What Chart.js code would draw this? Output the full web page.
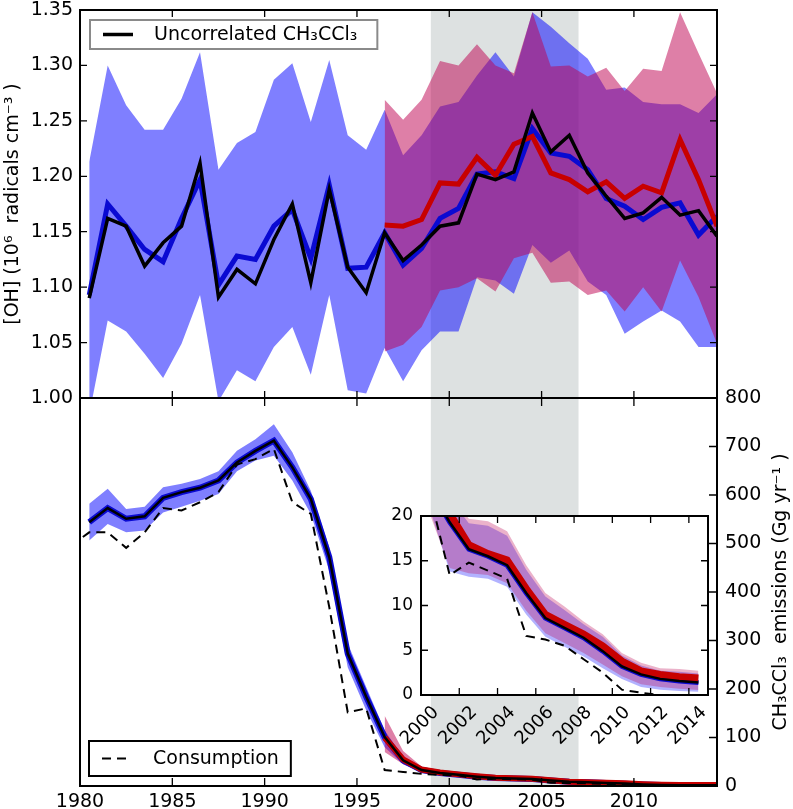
<!DOCTYPE html>
<html lang="en">
<head>
<meta charset="UTF-8">
<title>[OH] and CH3CCl3 emissions</title>
<script src="https://cdn.jsdelivr.net/npm/chart.js"></script>
<style>
  body { margin: 0; background: #fff; }
  #wrap { position: relative; width: 793px; height: 809px; }
  #wrap canvas { position: absolute; left: 0; top: 0; }
</style>
</head>
<body>
<div id="wrap">
  <canvas id="ohChart" width="793" height="809"></canvas>
  <canvas id="emisChart" width="793" height="809"></canvas>
  <canvas id="insetChart" width="793" height="809"></canvas>
</div>
<script>
// ---- data ----
const yearsAll = [1980.5, 1981.5, 1982.5, 1983.5, 1984.5, 1985.5, 1986.5, 1987.5, 1988.5, 1989.5,
  1990.5, 1991.5, 1992.5, 1993.5, 1994.5, 1995.5, 1996.5, 1997.5, 1998.5, 1999.5,
  2000.5, 2001.5, 2002.5, 2003.5, 2004.5, 2005.5, 2006.5, 2007.5, 2008.5, 2009.5,
  2010.5, 2011.5, 2012.5, 2013.5, 2014.5];
const yearsRed = [1996.5, 1997.5, 1998.5, 1999.5, 2000.5, 2001.5, 2002.5, 2003.5, 2004.5, 2005.5,
  2006.5, 2007.5, 2008.5, 2009.5, 2010.5, 2011.5, 2012.5, 2013.5, 2014.5];
const yearsCons = [1979.5, 1980.5, 1981.5, 1982.5, 1983.5, 1984.5, 1985.5, 1986.5, 1987.5, 1988.5, 1989.5,
  1990.5, 1991.5, 1992.5, 1993.5, 1994.5, 1995.5, 1996.5, 1997.5, 1998.5, 1999.5,
  2000.5, 2001.5, 2002.5, 2003.5, 2004.5, 2005.5, 2006.5, 2007.5, 2008.5, 2009.5,
  2010.5, 2011.5, 2012.5, 2013.5, 2014.5];

// [OH], 10^6 radicals cm^-3
const ohUncorr = [1.090, 1.162, 1.155, 1.119, 1.140, 1.155, 1.212, 1.091, 1.116, 1.103, 1.143, 1.175, 1.104, 1.188, 1.118, 1.095, 1.149,
  1.124, 1.138, 1.155, 1.158, 1.202, 1.197, 1.204, 1.257, 1.222, 1.237, 1.203, 1.182, 1.162, 1.167, 1.181, 1.165, 1.169, 1.146];
const ohBlue = [1.093, 1.175, 1.155, 1.134, 1.123, 1.162, 1.197, 1.102, 1.128, 1.125, 1.155, 1.170, 1.126, 1.192, 1.117, 1.118, 1.149,
  1.120, 1.135, 1.162, 1.171, 1.202, 1.204, 1.198, 1.243, 1.221, 1.218, 1.206, 1.180, 1.173, 1.161, 1.172, 1.176, 1.147, 1.164];
const ohBlueHigh = [1.213, 1.300, 1.264, 1.242, 1.242, 1.270, 1.312, 1.206, 1.230, 1.240, 1.287, 1.302, 1.249, 1.305, 1.237, 1.224, 1.260,
  1.219, 1.237, 1.263, 1.267, 1.291, 1.312, 1.290, 1.348, 1.335, 1.320, 1.306, 1.278, 1.280, 1.267, 1.265, 1.265, 1.257, 1.274];
const ohBlueLow = [0.985, 1.070, 1.060, 1.040, 1.018, 1.049, 1.093, 0.997, 1.025, 1.015, 1.046, 1.064, 1.021, 1.093, 1.007, 1.004, 1.045,
  1.015, 1.043, 1.060, 1.060, 1.109, 1.106, 1.094, 1.138, 1.122, 1.133, 1.105, 1.093, 1.058, 1.069, 1.079, 1.069, 1.046, 1.046];
const ohRed = [1.156, 1.155, 1.161, 1.194, 1.193, 1.217, 1.201, 1.229, 1.236, 1.203, 1.197, 1.186, 1.195, 1.180, 1.191, 1.185, 1.233, 1.197, 1.155];
const ohRedHigh = [1.269, 1.251, 1.269, 1.304, 1.300, 1.319, 1.300, 1.293, 1.348, 1.299, 1.300, 1.290, 1.298, 1.277, 1.297, 1.295, 1.348, 1.311, 1.275];
const ohRedLow = [1.042, 1.048, 1.064, 1.097, 1.100, 1.108, 1.096, 1.126, 1.131, 1.104, 1.105, 1.093, 1.097, 1.078, 1.100, 1.078, 1.124, 1.091, 1.049];

// CH3CCl3 emissions, Gg/yr
const emisUncorr = [544, 573, 551, 556, 594, 606, 615, 630, 667, 691, 712, 657, 592, 472, 273, 184, 101,
  53, 33, 27, 23, 19.3, 16.3, 15.5, 14.5, 11.4, 8.6, 7.5, 6.4, 4.9, 3.2, 2.3, 1.8, 1.56, 1.4];
const emisBlue = [544, 573, 551, 556, 594, 606, 615, 630, 667, 691, 712, 657, 592, 472, 273, 184, 101,
  53, 33, 27, 23, 19.3, 16.3, 15.5, 14.5, 11.4, 8.6, 7.5, 6.4, 4.9, 3.2, 2.3, 1.8, 1.56, 1.4];
const emisBlueHigh = [582, 613, 571, 576, 616, 623, 633, 649, 691, 715, 746, 688, 609, 492, 294, 204, 115,
  60, 37, 29, 24.5, 22.0, 19.2, 18.9, 17.8, 14.0, 11.0, 9.5, 7.9, 6.5, 4.4, 3.3, 2.7, 2.6, 2.4];
const emisBlueLow = [506, 540, 523, 527, 564, 576, 588, 602, 649, 671, 681, 630, 561, 444, 245, 156, 80,
  45, 28, 24, 20.5, 13.8, 13.2, 13.0, 12.1, 9.0, 6.5, 5.4, 4.3, 3.0, 1.8, 0.9, 0.6, 0.45, 0.35];
const emisRed = [100, 55, 34, 28, 24, 20.3, 16.8, 15.8, 15.1, 11.9, 9.0, 7.9, 6.8, 5.5, 3.8, 2.7, 2.3, 2.05, 1.9];
const emisRedHigh = [145, 72, 40, 32, 27, 22.5, 19.7, 19.4, 18.3, 14.5, 11.4, 9.9, 8.2, 6.8, 4.7, 3.6, 3.0, 2.9, 2.7];
const emisRedLow = [70, 45, 30, 25, 20, 14.2, 13.6, 13.4, 12.5, 9.4, 6.9, 5.8, 4.7, 3.4, 2.1, 1.2, 0.9, 0.7, 0.55];
const consumption = [495, 523, 523, 491, 523, 573, 568, 585, 606, 663, 674, 695, 585, 561, 369, 152, 160, 33,
  29, 25, 23, 22, 13.4, 14.8, 13.9, 13.0, 6.6, 6.2, 5.5, 4.0, 2.5, 0.6, 0.25, 0, 0, 0];

const shadeSpan = [1999, 2007];

// ---- styling ----
Chart.defaults.font.family = "'DejaVu Sans', sans-serif";
Chart.defaults.font.size = 19;
Chart.defaults.color = '#000';
Chart.defaults.animation = false;

const BLUE = '#0a0ad2', RED = '#c80000';
const BLUE_BAND = 'rgba(0,0,255,0.5)', RED_BAND = 'rgba(190,0,80,0.5)';
const BLUE_BAND_INSET = 'rgba(0,0,255,0.3)', RED_BAND_INSET = 'rgba(190,0,80,0.3)';
const SHADE = '#dde1e1';

const pts = (xs, ys) => xs.map((x, i) => ({ x, y: ys[i] }));

function line(label, xs, ys, color, width, order, dash) {
  return { label, data: pts(xs, ys), borderColor: color, borderWidth: width, borderDash: dash || [],
    pointRadius: 0, tension: 0, fill: false, order, clip: 0 };
}
// upper edge fills down to the lower edge that follows it
function band(xs, hi, lo, color, order) {
  return [
    { label: 'hi', data: pts(xs, hi), borderWidth: 0, pointRadius: 0, fill: '+1', backgroundColor: color, order, clip: 0 },
    { label: 'lo', data: pts(xs, lo), borderWidth: 0, pointRadius: 0, fill: false, order, clip: 0 }
  ];
}

// fixes the size of an axis box so the plot areas line up
function fixBox(size) {
  return s => {
    if (s.isHorizontal()) s.height = size; else s.width = size;
    s.paddingTop = s.paddingBottom = s.paddingLeft = s.paddingRight = 0;
  };
}

const shade = {
  id: 'shade',
  beforeDatasetsDraw(chart) {
    const { ctx, chartArea: a, scales: { x } } = chart;
    const x0 = x.getPixelForValue(shadeSpan[0]), x1 = x.getPixelForValue(shadeSpan[1]);
    ctx.save();
    ctx.fillStyle = SHADE;
    ctx.fillRect(x0, a.top, x1 - x0, a.bottom - a.top);
    ctx.restore();
  }
};

const whiteArea = {
  id: 'whiteArea',
  beforeDatasetsDraw(chart) {
    const { ctx, chartArea: a } = chart;
    ctx.save();
    ctx.fillStyle = '#fff';
    ctx.fillRect(a.left, a.top, a.right - a.left, a.bottom - a.top);
    ctx.restore();
  }
};

// matplotlib-style frame with ticks pointing inward
function frame(sides, yId, len) {
  return {
    id: 'frame',
    afterDatasetsDraw(chart) {
      const { ctx, chartArea: a, scales } = chart;
      const xs = scales.x, ys = scales[yId];
      ctx.save();
      ctx.strokeStyle = '#000';
      ctx.lineWidth = 1.3;
      ctx.beginPath();
      xs.ticks.forEach(t => {
        const px = xs.getPixelForValue(t.value);
        if (sides.includes('b')) { ctx.moveTo(px, a.bottom); ctx.lineTo(px, a.bottom - len); }
        if (sides.includes('t')) { ctx.moveTo(px, a.top); ctx.lineTo(px, a.top + len); }
      });
      ys.ticks.forEach(t => {
        const py = ys.getPixelForValue(t.value);
        if (sides.includes('l')) { ctx.moveTo(a.left, py); ctx.lineTo(a.left + len, py); }
        if (sides.includes('r')) { ctx.moveTo(a.right, py); ctx.lineTo(a.right - len, py); }
      });
      ctx.stroke();
      ctx.lineWidth = 2;
      ctx.strokeRect(a.left, a.top, a.right - a.left, a.bottom - a.top);
      ctx.restore();
    }
  };
}

function legendBox(label, edge, dx, dy, h, fromBottom, extraW) {
  return {
    id: 'legendBox',
    afterDraw(chart) {
      const { ctx, chartArea: a } = chart;
      const ds = chart.data.datasets.find(d => d.label === label);
      ctx.save();
      ctx.font = "19px 'DejaVu Sans'";
      const tw = ctx.measureText(label).width;
      const x = a.left + dx;
      const y = fromBottom ? a.bottom - dy - h : a.top + dy;
      const w = 64 + tw + extraW;
      ctx.fillStyle = '#fff';
      ctx.fillRect(x, y, w, h);
      ctx.strokeStyle = edge;
      ctx.lineWidth = 2;
      ctx.strokeRect(x, y, w, h);
      const cy = y + h / 2;
      ctx.strokeStyle = ds.borderColor;
      ctx.lineWidth = ds.borderWidth;
      ctx.setLineDash(ds.borderDash);
      ctx.beginPath();
      ctx.moveTo(x + 13, cy);
      ctx.lineTo(x + 43, cy);
      ctx.stroke();
      ctx.setLineDash([]);
      ctx.fillStyle = '#000';
      ctx.textBaseline = 'middle';
      ctx.fillText(label, x + 64, cy + 1);
      ctx.restore();
    }
  };
}

const rightTitle = {
  id: 'rightTitle',
  afterDraw(chart) {
    const { ctx, chartArea: a } = chart;
    ctx.save();
    ctx.translate(781, (a.top + a.bottom) / 2);
    ctx.rotate(-Math.PI / 2);
    ctx.font = "19px 'DejaVu Sans'";
    ctx.fillStyle = '#000';
    ctx.textAlign = 'center';
    ctx.textBaseline = 'middle';
    ctx.fillText('CH₃CCl₃  emissions (Gg yr⁻¹ )', 0, 0);
    ctx.restore();
  }
};

const common = {
  responsive: false,
  events: [],
  plugins: { legend: { display: false }, tooltip: { enabled: false } }
};

// ---- top panel: [OH] ----
new Chart(document.getElementById('ohChart'), {
  type: 'line',
  data: {
    datasets: [
      line('Uncorrelated CH₃CCl₃', yearsAll, ohUncorr, '#000', 3.5, 1),
      line('red', yearsRed, ohRed, RED, 5, 2),
      line('blue', yearsAll, ohBlue, BLUE, 5, 3),
      ...band(yearsRed, ohRedHigh, ohRedLow, RED_BAND, 9),
      ...band(yearsAll, ohBlueHigh, ohBlueLow, BLUE_BAND, 10)
    ]
  },
  options: {
    ...common,
    layout: { padding: { left: 0, right: 76, top: 10, bottom: 411 } },
    scales: {
      x: { type: 'linear', min: 1980, max: 2014.5, grid: { display: false }, border: { display: false },
        ticks: { display: false, stepSize: 5, includeBounds: false, autoSkip: false }, afterFit: fixBox(0) },
      y: { type: 'linear', min: 1.0, max: 1.35, grid: { display: false, drawTicks: false }, border: { display: false },
        ticks: { stepSize: 0.05, padding: 7, callback: v => v.toFixed(2) },
        title: { display: true, text: '[OH] (10⁶  radicals cm⁻³ )', padding: { top: 2, bottom: 0 } },
        afterFit: fixBox(80) }
    }
  },
  plugins: [shade, frame('tblr', 'y', 7), legendBox('Uncorrelated CH₃CCl₃', '#8a8a8a', 10, 10, 29, false, 20)]
});

// ---- bottom panel: emissions ----
function emisDatasets(blueBand, redBand, redW, blueW) {
  return [
    line('Consumption', yearsCons, consumption, '#000', 2, 1, [9, 6]),
    line('Uncorrelated CH₃CCl₃', yearsAll, emisUncorr, '#000', 2.5, 2),
    line('red', yearsRed, emisRed, RED, redW, 3),
    line('blue', yearsAll, emisBlue, BLUE, blueW, 4),
    ...band(yearsRed, emisRedHigh, emisRedLow, redBand, 9),
    ...band(yearsAll, emisBlueHigh, emisBlueLow, blueBand, 10)
  ];
}

new Chart(document.getElementById('emisChart'), {
  type: 'line',
  data: { datasets: emisDatasets(BLUE_BAND, RED_BAND, 6, 6) },
  options: {
    ...common,
    layout: { padding: { left: 80, right: 0, top: 398, bottom: 0 } },
    scales: {
      x: { type: 'linear', min: 1980, max: 2014.5, grid: { display: false, drawTicks: false }, border: { display: false },
        ticks: { stepSize: 5, includeBounds: false, autoSkip: false, maxRotation: 0, padding: 5, callback: v => String(v) },
        afterFit: fixBox(23) },
      y: { type: 'linear', position: 'right', min: 0, max: 800, grid: { display: false, drawTicks: false }, border: { display: false },
        ticks: { stepSize: 100, padding: 8 }, afterFit: fixBox(76) }
    }
  },
  plugins: [shade, frame('tbr', 'y', 8), legendBox('Consumption', '#000', 9, 10, 35, true, 12), rightTitle]
});

// ---- inset: 2000 onwards ----
new Chart(document.getElementById('insetChart'), {
  type: 'line',
  data: { datasets: emisDatasets(BLUE_BAND_INSET, RED_BAND_INSET, 7, 5) },
  options: {
    ...common,
    layout: { padding: { left: 381, right: 85, top: 516, bottom: 34 } },
    scales: {
      x: { type: 'linear', min: 2000, max: 2015, grid: { display: false, drawTicks: false }, border: { display: false },
        ticks: { stepSize: 2, includeBounds: false, autoSkip: false, minRotation: 45, maxRotation: 45,
          padding: 7, labelOffset: 15, font: { size: 18 }, callback: v => String(v) },
        afterFit: fixBox(80) },
      y: { type: 'linear', min: 0, max: 20, grid: { display: false, drawTicks: false }, border: { display: false },
        ticks: { stepSize: 5, padding: 8, font: { size: 17 } }, afterFit: fixBox(40) }
    }
  },
  plugins: [whiteArea, frame('tblr', 'y', 7)]
});
</script>
</body>
</html>
